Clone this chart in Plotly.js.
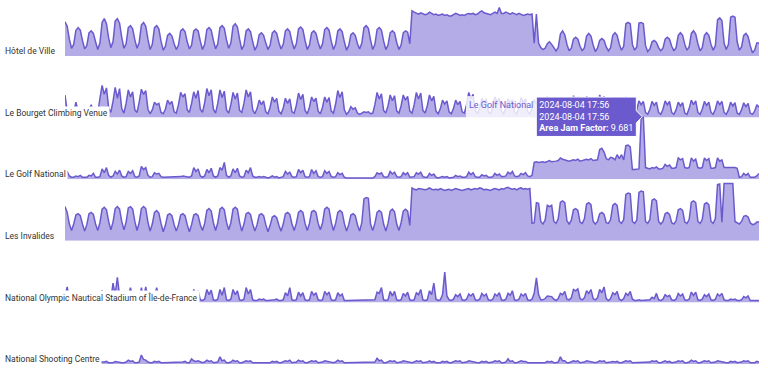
<!DOCTYPE html>
<html>
<head>
<meta charset="utf-8">
<script src="https://cdn.plot.ly/plotly-3.0.1.min.js"></script>
<style>html,body{margin:0;padding:0;background:#fff;}#chart{width:768px;height:378px;}</style>
</head>
<body>
<div id="chart"></div>
<script>
// Venue names (one row each, top to bottom)
const venues = [
  "Hôtel de Ville",
  "Le Bourget Climbing Venue",
  "Le Golf National",
  "Les Invalides",
  "National Olympic Nautical Stadium of Île-de-France",
  "National Shooting Centre"
];

// Time grid: readings every 4 hours from 2024-06-21 13:56 to 2024-08-13 13:56
const startTime = "2024-06-21T13:56:00Z";
const stepHours = 4;

// Area Jam Factor per venue, one line per day (01:56, 05:56, 09:56, 13:56, 17:56, 21:56)
const hotelDeVille = [
  5.3,4.6,2.6,
  1.2,1.8,4.0,4.4,4.0,2.4,
  1.1,1.6,3.6,3.9,3.5,2.2,
  1.0,2.0,5.2,5.8,5.0,2.8,
  1.3,2.2,5.4,5.8,5.1,2.9,
  1.2,1.9,4.4,4.7,4.2,2.5,
  1.2,2.1,4.8,5.2,4.6,2.6,
  1.0,1.8,4.4,4.7,4.2,2.3,
  0.9,1.5,3.2,3.5,3.1,1.9,
  1.0,1.7,3.9,4.2,3.8,2.2,
  1.1,1.7,3.9,4.2,3.9,2.3,
  1.0,1.8,4.1,4.4,4.0,2.4,
  1.1,1.9,4.4,4.7,4.3,2.5,
  1.2,2.0,4.6,5.0,4.5,2.6,
  1.0,1.7,3.9,4.2,3.8,2.2,
  0.9,1.6,3.3,3.6,3.2,2.0,
  1.0,1.7,3.6,3.9,3.5,2.1,
  1.1,1.8,3.9,4.2,3.8,2.2,
  1.1,1.9,4.2,4.5,4.1,2.4,
  1.0,1.7,3.6,3.9,3.5,2.1,
  1.1,1.9,4.1,4.4,4.0,2.3,
  1.0,1.8,3.9,4.2,3.8,2.2,
  0.9,1.6,3.3,3.6,3.2,1.9,
  1.1,2.0,4.4,4.7,4.3,2.5,
  1.0,1.8,4.1,4.4,4.0,2.3,
  1.0,1.7,3.6,3.9,3.6,2.1,
  1.0,1.7,3.6,3.9,3.7,1.9,
  7.0,6.8,6.6,6.5,6.7,6.6,
  6.4,6.5,6.8,6.6,6.4,6.5,
  6.3,6.4,6.5,6.3,6.4,6.2,
  6.2,6.4,6.6,6.5,6.3,6.4,
  6.3,6.5,6.6,6.5,6.6,6.4,
  6.5,6.8,7.0,6.7,6.6,6.5,
  6.4,6.6,6.8,6.6,7.5,6.6,
  6.6,6.8,6.7,6.5,6.7,6.6,
  6.4,6.6,6.5,6.3,6.4,6.5,
  6.4,6.5,2.0,6.5,2.0,1.3,
  1.0,1.2,1.9,2.2,1.8,1.2,
  0.8,1.3,3.4,3.9,3.3,1.8,
  0.8,1.2,2.6,2.9,2.6,1.5,
  0.8,1.3,3.1,3.5,3.1,1.7,
  0.7,1.2,2.4,2.7,2.4,1.4,
  0.8,1.3,3.2,3.6,3.2,1.8,
  0.9,1.5,5.0,5.2,5.0,1.8,
  0.9,1.4,5.1,5.2,5.0,1.6,
  0.7,1.1,2.2,2.4,2.1,1.3,
  0.8,1.2,2.6,2.9,2.6,1.5,
  0.8,1.3,3.2,3.6,3.2,1.8,
  0.9,1.4,3.5,3.9,3.4,1.9,
  0.8,1.3,3.2,3.6,3.2,1.8,
  0.9,1.6,5.6,5.9,5.5,2.0,
  1.0,1.8,6.0,6.2,6.0,2.2,
  0.9,1.4,3.2,3.5,3.0,1.6,
  0.5,0.9,2.0,2.0
];

const leBourget = [
  3.5,1.0,0.8,
  0.5,0.8,2.4,1.0,0.9,0.5,
  0.4,0.7,1.2,2.0,1.0,0.6,
  0.6,3.0,5.0,3.6,4.6,1.5,
  0.8,2.5,4.7,3.0,4.5,1.4,
  0.7,2.2,4.3,3.2,4.0,1.2,
  0.8,2.4,4.4,3.6,4.2,1.3,
  0.6,1.2,2.4,2.0,2.2,0.8,
  0.6,1.3,2.7,2.1,2.5,0.9,
  0.7,2.0,3.9,3.2,3.7,1.2,
  0.8,2.2,4.0,3.0,4.2,1.3,
  0.8,2.3,4.5,3.4,4.3,1.3,
  0.7,2.2,4.3,3.1,4.1,1.2,
  0.7,2.0,3.9,2.9,3.8,1.1,
  0.8,2.2,4.3,3.2,4.0,1.2,
  0.6,1.4,2.7,2.0,2.6,0.9,
  0.6,1.6,3.2,2.4,3.0,1.0,
  0.6,1.5,3.0,2.2,2.9,0.9,
  0.7,1.9,3.8,2.8,3.6,1.1,
  0.6,1.6,3.2,2.5,3.0,1.0,
  0.6,1.6,3.2,2.4,3.1,1.0,
  0.7,2.1,4.2,3.1,4.0,1.2,
  0.5,0.9,1.7,1.3,1.5,0.7,
  0.5,0.7,0.9,0.8,0.9,0.6,
  0.7,2.0,3.9,2.9,3.7,1.1,
  0.7,1.8,3.5,2.6,3.4,1.0,
  0.7,1.8,3.5,2.7,3.3,1.0,
  0.7,2.0,3.9,2.9,3.8,1.1,
  0.7,1.8,3.5,2.6,3.3,1.0,
  0.6,1.4,2.7,2.1,2.6,0.9,
  0.6,1.4,2.7,2.0,2.5,0.9,
  0.7,2.0,3.9,2.9,3.6,1.1,
  0.6,1.5,3.0,2.3,2.9,0.9,
  0.6,1.6,3.2,2.4,3.0,1.0,
  0.6,1.5,2.9,2.2,2.8,0.9,
  0.6,1.6,3.1,2.3,2.9,0.9,
  0.6,1.4,2.8,2.1,2.7,0.9,
  0.6,1.6,3.2,2.4,3.0,1.0,
  0.6,1.6,3.1,2.3,2.9,0.9,
  0.6,1.7,3.4,2.5,3.2,1.0,
  0.6,1.7,3.3,2.5,3.1,1.0,
  0.7,1.8,3.5,2.6,3.3,1.0,
  0.6,1.5,3.0,2.2,2.8,0.9,
  0.6,1.6,3.2,2.4,3.0,1.0,
  0.5,1.3,2.6,2.0,2.5,0.8,
  0.5,1.3,2.5,1.9,2.4,0.8,
  0.5,1.3,2.6,2.0,2.5,0.8,
  0.5,1.2,2.4,1.8,2.3,0.7,
  0.5,1.4,2.7,2.0,2.6,0.8,
  0.5,1.3,2.5,1.9,2.4,0.8,
  0.5,1.3,2.6,2.0,2.5,0.8,
  0.5,1.2,2.4,1.8,2.3,0.7,
  0.5,1.2,2.3,1.7,2.2,0.7,
  0.5,1.0,2.0,1.6
];

const golfNational = [
  1.0,1.2,0.5,
  0.3,0.3,0.5,0.4,0.6,0.3,
  0.3,0.3,0.6,0.5,0.9,0.3,
  0.3,0.4,1.6,1.0,1.8,0.6,
  0.3,0.5,1.2,0.8,1.4,0.5,
  0.3,0.4,1.2,0.9,1.3,0.4,
  0.3,0.5,2.0,1.5,1.8,0.6,
  0.3,0.4,1.0,0.8,0.9,0.4,
  0.3,0.3,0.4,0.3,0.4,0.3,
  0.3,0.3,0.4,0.5,0.4,0.3,
  0.3,0.5,1.8,1.2,1.6,0.5,
  0.3,0.5,1.5,1.0,1.7,0.5,
  0.3,0.5,1.8,1.4,2.6,0.6,
  0.3,0.5,1.6,1.0,1.7,0.5,
  0.3,0.4,1.4,1.0,1.8,0.5,
  0.3,0.3,0.4,0.3,0.4,0.3,
  0.2,0.3,0.5,0.3,0.4,0.2,
  0.3,0.4,1.2,0.8,1.1,0.4,
  0.3,0.4,1.5,1.0,1.4,0.4,
  0.3,0.4,1.5,0.9,1.3,0.4,
  0.3,0.4,1.3,0.9,1.2,0.4,
  0.3,0.4,1.0,0.7,0.9,0.3,
  0.2,0.2,0.3,0.2,0.3,0.2,
  0.2,0.2,0.3,0.2,0.2,0.2,
  0.2,0.4,1.0,0.8,1.0,0.4,
  0.3,0.4,1.2,0.8,1.1,0.4,
  0.3,0.4,1.0,0.7,1.0,0.3,
  0.3,0.4,1.0,0.8,1.1,0.4,
  0.3,0.3,0.9,0.6,0.8,0.3,
  0.2,0.3,0.4,0.3,0.4,0.2,
  0.2,0.3,0.6,0.4,0.5,0.3,
  0.3,0.4,1.1,0.7,1.0,0.4,
  0.3,0.3,0.7,0.5,0.6,0.3,
  0.3,0.4,0.9,0.6,0.8,0.4,
  0.4,0.5,1.1,0.8,1.2,0.5,
  0.4,0.5,0.9,0.7,1.0,0.5,
  0.4,0.6,2.6,2.7,2.6,2.7,
  2.7,2.6,2.8,2.9,2.7,2.7,
  2.8,2.9,3.3,3.1,3.0,2.9,
  2.8,2.9,3.0,2.9,3.1,2.8,
  2.9,3.0,3.1,3.0,3.2,2.9,
  2.9,3.0,4.6,4.8,4.2,3.2,
  3.0,3.4,3.3,3.0,3.8,3.2,
  3.8,3.0,5.2,5.3,5.0,1.5,
  1.5,1.5,1.6,9.4,9.681,1.8,
  1.7,1.6,1.8,1.7,1.9,1.6,
  1.6,1.7,2.3,2.0,2.2,1.7,
  1.7,1.8,3.3,3.0,3.2,1.8,
  1.7,1.8,3.3,2.8,3.1,1.8,
  1.7,1.8,3.3,2.9,3.2,1.7,
  1.7,1.8,3.3,2.8,3.0,1.8,
  1.8,1.8,1.9,1.8,1.8,1.7,
  0.3,0.4,0.9,0.6,0.9,0.3,
  0.3,0.3,0.5,0.9
];

const lesInvalides = [
  5.3,4.4,2.6,
  1.6,2.6,4.0,4.2,3.9,2.6,
  1.5,2.5,4.2,4.4,4.1,2.6,
  1.6,2.8,4.9,5.2,4.8,3.0,
  1.7,2.9,5.0,5.3,4.9,3.0,
  1.7,2.9,5.1,5.3,4.9,3.0,
  1.6,2.8,5.0,5.3,5.0,2.9,
  1.5,2.6,4.4,4.7,4.3,2.7,
  1.4,2.4,4.0,4.2,3.9,2.5,
  1.5,2.5,4.0,4.2,3.9,2.5,
  1.4,2.5,4.0,4.2,3.9,2.5,
  1.6,2.7,4.7,5.0,4.6,2.8,
  1.6,2.8,4.9,5.2,4.8,2.9,
  1.7,2.8,4.9,5.2,4.9,2.9,
  1.5,2.6,4.2,4.4,4.1,2.6,
  1.5,2.5,4.0,4.2,3.9,2.5,
  1.4,2.4,3.7,3.9,3.6,2.4,
  1.5,2.6,4.2,4.4,4.1,2.6,
  1.6,2.7,4.4,4.7,4.4,2.7,
  1.6,2.7,4.5,4.7,4.4,2.7,
  1.7,2.8,4.9,5.2,4.9,2.9,
  1.6,2.7,4.4,4.7,4.4,2.7,
  1.5,2.5,4.0,4.2,3.9,2.5,
  1.5,2.8,6.5,6.7,6.6,2.6,
  1.6,2.7,4.4,4.7,4.4,2.6,
  1.5,2.7,4.6,4.9,4.5,2.6,
  1.6,2.8,4.6,4.9,4.6,2.4,
  8.2,8.0,7.9,8.1,8.0,7.9,
  7.9,8.0,8.2,8.0,7.9,8.0,
  7.9,8.1,8.0,7.8,7.9,8.0,
  7.8,7.9,8.1,8.0,7.9,7.8,
  7.9,8.0,8.1,7.9,8.0,8.1,
  8.0,8.2,8.1,7.9,8.0,7.9,
  7.8,8.0,8.1,8.0,7.9,8.1,
  8.0,8.2,8.3,8.1,8.0,8.1,
  7.9,8.1,8.2,8.0,8.1,8.0,
  8.1,2.7,2.8,5.9,5.8,3.0,
  2.6,3.2,5.5,5.3,5.5,3.0,
  2.7,3.4,6.0,6.2,5.9,3.1,
  2.6,3.2,4.8,5.0,4.7,2.9,
  2.7,3.4,5.7,5.9,5.6,3.0,
  2.6,3.0,4.2,4.4,4.1,2.8,
  2.7,3.3,5.5,5.8,5.5,3.0,
  2.7,3.3,7.2,7.4,7.3,3.0,
  2.7,3.2,7.5,7.7,7.6,3.0,
  2.7,3.3,6.3,6.5,6.2,3.0,
  2.6,3.0,4.2,4.4,4.1,2.8,
  2.6,3.1,4.8,5.0,4.7,2.9,
  2.7,3.3,6.0,6.2,5.9,3.0,
  2.7,3.3,5.7,5.9,5.6,3.0,
  2.7,3.4,8.7,8.8,2.9,8.9,
  8.9,8.9,8.8,8.9,3.0,2.8,
  2.6,3.0,3.8,3.9,3.7,2.8,
  2.5,2.6,2.9,2.9
];

const nauticalStadium = [
  1.0,2.4,0.5,
  0.3,0.3,0.4,0.3,0.4,0.3,
  0.3,0.3,0.4,0.3,0.3,0.3,
  0.3,0.3,1.9,0.5,0.4,0.3,
  0.3,3.0,1.2,3.9,1.0,0.4,
  0.3,0.4,1.0,2.3,0.8,0.3,
  0.3,0.4,2.3,0.8,2.4,0.4,
  0.3,0.4,0.8,2.3,0.8,0.3,
  0.3,0.4,1.0,0.8,0.9,0.3,
  0.3,0.4,1.2,0.9,1.1,0.3,
  0.3,0.5,2.0,1.2,1.8,0.4,
  0.3,0.5,2.0,1.2,1.9,0.4,
  0.3,0.5,2.0,1.1,2.3,0.4,
  0.3,0.5,2.0,1.2,1.8,0.4,
  0.3,0.5,2.3,1.3,2.0,0.4,
  0.3,0.3,0.5,0.4,0.5,0.3,
  0.3,0.3,0.4,0.4,0.5,0.3,
  0.3,0.4,1.5,1.0,2.3,0.4,
  0.3,0.4,1.6,1.0,1.5,0.4,
  0.3,0.4,1.7,1.1,1.5,0.4,
  0.3,0.4,1.7,1.2,1.6,0.4,
  0.3,0.4,1.5,1.0,1.3,0.3,
  0.3,0.3,0.4,0.3,0.4,0.3,
  0.3,0.3,0.4,0.4,0.4,0.3,
  0.3,0.4,1.6,1.4,2.3,0.4,
  0.3,0.4,1.7,1.0,1.7,0.4,
  0.3,0.4,1.4,1.0,1.6,0.4,
  0.3,0.4,1.5,1.2,2.0,0.4,
  0.3,0.4,1.8,1.2,3.0,0.5,
  0.3,0.4,1.2,4.7,1.0,0.4,
  0.3,0.5,1.2,0.9,1.3,0.4,
  0.3,0.5,1.3,1.0,1.4,0.4,
  0.3,0.5,1.4,1.0,1.3,0.4,
  0.3,0.5,1.3,1.0,1.5,0.4,
  0.3,0.5,1.4,1.1,1.8,0.4,
  0.3,0.5,1.3,1.0,1.4,0.4,
  0.3,0.5,1.4,3.8,1.2,0.4,
  0.4,0.6,1.0,1.0,0.9,0.5,
  0.3,0.6,1.4,1.2,1.7,0.5,
  0.4,0.7,2.0,1.8,2.1,0.6,
  0.4,0.7,1.8,1.4,2.0,0.6,
  0.4,0.7,2.0,1.5,2.4,0.6,
  0.3,0.6,1.5,1.2,1.7,0.5,
  0.3,0.6,1.4,1.1,1.7,0.5,
  0.3,0.3,0.4,0.3,0.3,0.3,
  0.3,0.4,0.8,0.6,1.4,0.4,
  0.3,0.5,1.2,0.9,1.1,0.4,
  0.3,0.5,1.4,1.0,1.3,0.4,
  0.3,0.5,1.6,1.1,1.6,0.4,
  0.3,0.5,1.2,0.9,1.3,0.4,
  0.3,0.5,1.3,1.0,1.4,0.4,
  0.3,0.3,0.5,0.4,0.5,0.3,
  0.3,0.4,0.9,0.7,1.0,0.3,
  0.3,0.3,0.4,0.3
];

const shootingCentre = [
  0.3,0.3,0.2,
  0.2,0.2,0.3,0.3,0.3,0.2,
  0.2,0.2,0.3,0.2,0.3,0.2,
  0.2,0.2,0.3,0.3,0.4,0.2,
  0.2,0.2,0.4,0.3,0.3,0.2,
  0.2,0.3,0.6,0.4,0.5,0.2,
  0.2,0.3,1.4,0.7,0.6,0.3,
  0.2,0.2,0.4,0.3,0.4,0.2,
  0.2,0.2,0.3,0.3,0.3,0.2,
  0.2,0.2,0.3,0.3,0.4,0.2,
  0.2,0.8,0.5,0.4,0.5,0.3,
  0.2,0.3,0.6,0.4,0.5,0.2,
  0.2,0.3,1.1,0.5,0.6,0.2,
  0.2,0.3,0.6,0.4,0.5,0.2,
  0.2,0.3,0.5,0.4,0.5,0.2,
  0.2,0.2,0.3,0.3,0.3,0.2,
  0.2,0.2,0.4,0.3,0.4,0.2,
  0.2,0.3,0.5,0.4,0.6,0.2,
  0.2,0.3,0.6,0.4,0.5,0.2,
  0.2,0.3,0.5,0.4,0.5,0.2,
  0.2,0.3,0.5,0.4,0.4,0.2,
  0.2,0.3,0.6,0.4,0.5,0.2,
  0.2,0.2,0.3,0.2,0.3,0.2,
  0.2,0.2,0.3,0.3,0.3,0.2,
  0.2,0.3,0.9,0.5,0.6,0.2,
  0.2,0.3,0.5,0.4,0.5,0.2,
  0.2,0.3,0.5,0.4,0.4,0.2,
  0.2,0.3,0.5,0.4,0.5,0.2,
  0.2,0.3,0.5,0.3,0.4,0.2,
  0.2,0.2,0.4,0.3,0.4,0.2,
  0.2,0.3,0.5,0.4,0.5,0.2,
  0.2,0.3,0.5,0.4,0.4,0.2,
  0.2,0.2,0.4,0.3,0.4,0.2,
  0.2,0.3,0.5,0.4,0.5,0.2,
  0.2,0.3,0.8,0.4,0.5,0.2,
  0.2,0.3,0.5,0.4,0.4,0.2,
  0.2,0.2,0.3,0.3,0.3,0.2,
  0.2,0.2,0.4,0.3,0.4,0.2,
  0.2,0.3,1.1,0.5,0.5,0.2,
  0.2,0.3,0.5,0.4,0.5,0.2,
  0.2,0.3,0.5,0.4,0.4,0.2,
  0.2,0.3,0.5,0.4,0.5,0.2,
  0.2,0.3,0.4,0.3,0.4,0.2,
  0.2,0.3,0.5,0.4,0.5,0.2,
  0.2,0.2,0.3,0.3,0.3,0.2,
  0.2,0.3,0.5,0.4,0.5,0.2,
  0.2,0.3,0.5,0.3,0.4,0.2,
  0.2,0.3,0.5,0.4,0.5,0.2,
  0.2,0.3,0.6,0.4,0.5,0.2,
  0.2,0.3,0.5,0.4,0.5,0.2,
  0.2,0.3,0.5,0.4,0.4,0.2,
  0.2,0.2,0.4,0.3,0.4,0.2,
  0.2,0.3,0.5,0.4,0.5,0.2,
  0.2,0.2,0.4,0.3
];

const seriesList = [hotelDeVille, leBourget, golfNational, lesInvalides, nauticalStadium, shootingCentre];
const hoverVenue = 2; // hover label shown on Le Golf National

// ---- build time stamps ----
function timeAt(i) {
  const t = new Date(Date.parse(startTime) + i * stepHours * 3600e3);
  return t.toISOString().slice(0, 16).replace('T', ' ');
}

// ---- layout constants (pixels) ----
const W = 768, H = 378;
const M = {l: 65, r: 9, t: 0, b: 14};
const plotH = H - M.t - M.b;
const rowGap = 61.6;        // distance between row baselines
const rowSpan = 112;        // drawable height above each baseline (rows overlap)
const pxPerUnit = 6.45;     // same value scale for every row
const lineColor = '#6A5ACD';
const fillColor = 'rgba(106,90,205,0.5)';
const FONT = 'Roboto, Lato, sans-serif';

const traces = [];
const layout = {
  width: W, height: H,
  margin: M,
  paper_bgcolor: '#ffffff',
  plot_bgcolor: 'rgba(0,0,0,0)',
  showlegend: false,
  hovermode: 'closest',
  font: {family: FONT, size: 9, color: '#333'},
  hoverlabel: {bgcolor: lineColor, bordercolor: '#ffffff', align: 'left',
               font: {family: FONT, size: 9, color: '#ffffff'}},
  xaxis: {visible: false, showgrid: false, zeroline: false, fixedrange: true},
  annotations: []
};

const nRows = venues.length;
venues.forEach((name, i) => {
  const vals = seriesList[i];
  const xs = vals.map((v, k) => timeAt(k));
  const yKey = i === 0 ? 'y' : 'y' + (i + 1);
  const axKey = i === 0 ? 'yaxis' : 'yaxis' + (i + 1);
  const baselineFromBottom = (nRows - 1 - i) * rowGap;
  const bottom = baselineFromBottom / plotH;
  const top = Math.min(1, (baselineFromBottom + rowSpan) / plotH);
  const spanPx = (top - bottom) * plotH;
  layout[axKey] = {
    domain: [bottom, top],
    range: [0, spanPx / pxPerUnit],
    visible: false, showgrid: false, zeroline: false, fixedrange: true,
    anchor: 'x'
  };
  traces.push({
    type: 'scatter', mode: 'lines',
    x: xs, y: vals, name: name,
    xaxis: 'x', yaxis: yKey,
    fill: 'tozeroy', fillcolor: fillColor,
    line: {color: lineColor, width: 1.5},
    hovertemplate: '%{x|%Y-%m-%d %H:%M}<br>%{x|%Y-%m-%d %H:%M}<br><b>Area Jam Factor:</b> %{y}<extra>' + name + '</extra>'
  });
  layout.annotations.push({
    text: name,
    xref: 'paper', yref: 'paper',
    x: (2.5 - M.l) / (W - M.l - M.r), xanchor: 'left',
    y: bottom, yanchor: 'middle', yshift: 5,
    showarrow: false,
    bgcolor: '#ffffff', borderpad: 1,
    font: {family: FONT, size: 8.5, color: '#333'}
  });
});

const gd = document.getElementById('chart');
Plotly.newPlot(gd, traces, layout, {displayModeBar: false}).then(() => {
  const g = seriesList[hoverVenue];
  let idx = 0;
  g.forEach((v, k) => { if (v > g[idx]) idx = k; });
  const sub = 'xy' + (hoverVenue + 1);
  try {
    Plotly.Fx.hover(gd, [{curveNumber: hoverVenue, pointNumber: idx}], sub);
  } catch (e) {
    const drag = gd.querySelector('.nsewdrag[data-subplot="' + sub + '"]');
    const xa = gd._fullLayout.xaxis, ya = gd._fullLayout['yaxis' + (hoverVenue + 1)];
    const r = drag.getBoundingClientRect();
    const px = xa.d2p(timeAt(idx)), py = ya.d2p(g[idx]);
    drag.dispatchEvent(new MouseEvent('mousemove', {bubbles: true, clientX: r.left + px, clientY: r.top + py}));
  }
});
</script>
</body>
</html>
